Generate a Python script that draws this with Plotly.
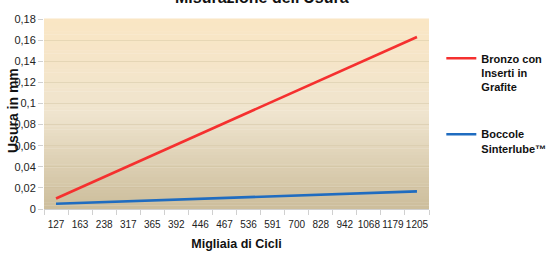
import plotly.graph_objects as go

cycles = ["127", "163", "238", "317", "365", "392", "446", "467", "536", "591",
          "700", "828", "942", "1068", "1179", "1205"]
bronzo = [0.0100, 0.0202, 0.0304, 0.0406, 0.0508, 0.0610, 0.0712, 0.0814,
          0.0916, 0.1018, 0.1120, 0.1222, 0.1324, 0.1426, 0.1528, 0.1630]
sinterlube = [0.0050, 0.0058, 0.0066, 0.0074, 0.0081, 0.0089, 0.0097, 0.0105,
              0.0112, 0.0120, 0.0128, 0.0136, 0.0143, 0.0151, 0.0159, 0.0167]
y_ticks = [0, 0.02, 0.04, 0.06, 0.08, 0.1, 0.12, 0.14, 0.16, 0.18]
y_labels = ["0", "0,02", "0,04", "0,06", "0,08", "0,1", "0,12", "0,14", "0,16", "0,18"]

FONT = "Liberation Sans"

fig = go.Figure()
fig.add_trace(go.Scatter(x=cycles, y=bronzo, mode="lines",
                         name="Bronzo con<br>Inserti in<br>Grafite", legendgroup="a",
                         line=dict(color="#f5302f", width=2.6)))
fig.add_trace(go.Scatter(x=cycles, y=sinterlube, mode="lines",
                         name="Boccole<br>Sinterlube™", legendgroup="b",
                         line=dict(color="#1f6cc0", width=2.6)))

def lerp(c1, c2, t):
    return tuple(round(a + (b - a) * t) for a, b in zip(c1, c2))

top = (250, 230, 196)
mid = (239, 228, 206)
bot = (204, 189, 155)
N = 60
shapes = []
for i in range(N):
    t = (i + 0.5) / N
    if t < 0.5:
        c = lerp(bot, mid, t / 0.5)
    else:
        c = lerp(mid, top, (t - 0.5) / 0.5)
    shapes.append(dict(type="rect", xref="x domain", yref="y domain",
                       x0=0, x1=1, y0=i / N, y1=(i + 1) / N + 0.002,
                       fillcolor="rgb(%d,%d,%d)" % c, line=dict(width=0), layer="below"))

fig.update_layout(
    width=548, height=256, autosize=False,
    margin=dict(l=44, r=119, t=19, b=47, autoexpand=False),
    paper_bgcolor="white",
    plot_bgcolor="rgba(0,0,0,0)",
    shapes=shapes,
    font=dict(family=FONT, color="#222222"),
    showlegend=True,
    legend=dict(x=1.032, y=0.865, xanchor="left", yanchor="top",
                font=dict(family=FONT, size=11, color="#111111", weight="bold"),
                valign="top", tracegroupgap=30, traceorder="grouped",
                bgcolor="rgba(0,0,0,0)"),
    xaxis=dict(type="category", tickson="boundaries", ticks="outside", ticklen=5,
               tickcolor="#d0d0d0", showline=True, linecolor="#d0d0d0",
               showgrid=False, tickangle=0, automargin=False, ticklabelstandoff=6,
               tickfont=dict(size=10, color="#222222"),
               title=dict(text="Migliaia di Cicli",
                          font=dict(size=12.5, weight="bold", color="#111111"),
                          standoff=10),
               range=[-0.5, 15.5], fixedrange=True),
    yaxis=dict(range=[0, 0.18], tickvals=y_ticks, ticktext=y_labels,
               ticks="outside", ticklen=5, tickcolor="#d0d0d0", automargin=False,
               showgrid=True, gridcolor="rgba(200,185,150,0.35)", gridwidth=1,
               showline=False, zeroline=False,
               tickfont=dict(size=11, color="#222222")),
    annotations=[
        dict(text="Usura in mm", xref="paper", yref="paper", x=0, y=0.5,
             xanchor="center", yanchor="middle", xshift=-31, yshift=3, textangle=-90,
             showarrow=False, font=dict(size=14, weight="bold", color="#111111")),
        dict(text="Misurazione dell'Usura", xref="paper", yref="paper", x=0.565, y=1,
             xanchor="center", yanchor="bottom", yshift=11, showarrow=False,
             font=dict(size=16, weight="bold", color="#111111")),
    ],
)

fig.write_html("out.html", config={"responsive": False, "displayModeBar": False},
               post_script="document.body.style.margin='0';document.body.style.padding='0';")
